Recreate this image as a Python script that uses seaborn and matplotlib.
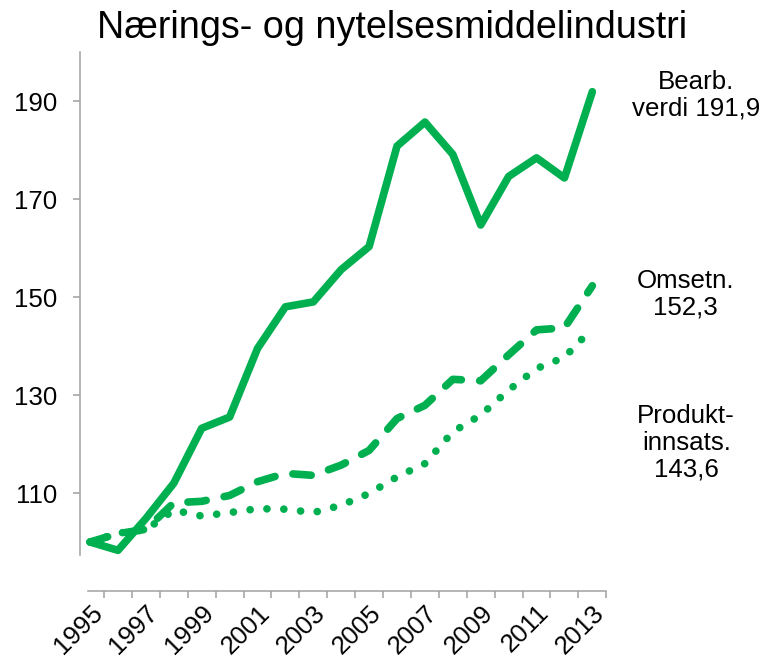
import numpy as np
import pandas as pd
import matplotlib
matplotlib.use("Agg")
import matplotlib.pyplot as plt
import seaborn as sns

years = list(range(1995, 2014))
bearb = [100.0, 98.3, 104.8, 112.0, 123.2, 125.5, 139.5, 148.0, 149.0, 155.6,
         160.3, 180.8, 185.7, 179.1, 164.7, 174.6, 178.4, 174.3, 191.9]
omsetn = [100.0, 101.7, 102.6, 108.0, 108.3, 109.5, 112.3, 114.0, 113.6, 115.7,
          118.7, 125.2, 127.9, 133.2, 132.9, 138.2, 143.3, 143.7, 152.3]
produkt = [100.0, 101.8, 102.5, 106.5, 105.3, 106.0, 106.8, 106.7, 106.0, 107.5,
           109.9, 113.3, 116.0, 122.5, 125.9, 131.0, 135.4, 137.7, 143.6]
series = ["Produktinnsats", "Omsetning", "Bearbeidingsverdi"]
end_labels = ["Produkt-\ninnsats.\n143,6", "Omsetn.\n152,3", "Bearb.\nverdi 191,9"]
title = "Nærings- og nytelsesmiddelindustri"

sns.set_style("white")
plt.rcParams["font.family"] = ["Liberation Sans", "DejaVu Sans"]
plt.rcParams["text.color"] = "black"
plt.rcParams["xtick.labelcolor"] = "black"
plt.rcParams["ytick.labelcolor"] = "black"

green = "#00B050"
grey = "#A0A0A0"

df = pd.DataFrame({
    "year": years * 3,
    "value": produkt + omsetn + bearb,
    "series": [s for s in series for _ in years],
})

fig = plt.figure(figsize=(7.71, 6.66), dpi=100)
ax = fig.add_axes([0.1038, 0.1126, 0.79 - 0.1038, 0.9219 - 0.1126])

dashes = {"Produktinnsats": (0.01, 2.2), "Omsetning": (2.4, 2.4), "Bearbeidingsverdi": ""}
sns.lineplot(data=df, x="year", y="value", style="series", style_order=series,
             dashes=dashes, color=green, lw=5.5, legend=False, ax=ax,
             dash_capstyle="round", solid_capstyle="round",
             solid_joinstyle="round", dash_joinstyle="round")

ax.set_xlim(1994.64, 2013.6)
ax.set_ylim(90, 200)
ax.set_xlabel("")
ax.set_ylabel("")

# y axis
ax.set_yticks([110, 130, 150, 170, 190])
ax.tick_params(axis="y", length=5, width=1.1, color=grey, pad=11.5,
               labelsize=18.6, direction="out", left=True)

# x axis: labels at every second year, tick marks between categories
ax.set_xticks(years[::2])
ax.set_xticklabels([str(y) for y in years[::2]])
ax.set_xticks([y + 0.5 for y in years], minor=True)
ax.tick_params(axis="x", which="major", length=0, pad=7, labelsize=18.6)
ax.tick_params(axis="x", which="minor", length=5, width=1.1, color=grey,
               direction="out", bottom=True)
plt.setp(ax.get_xticklabels(), rotation=45, ha="right", va="top",
         rotation_mode="anchor")

for side in ["top", "right"]:
    ax.spines[side].set_visible(False)
for side in ["left", "bottom"]:
    ax.spines[side].set_color(grey)
    ax.spines[side].set_linewidth(1.1)
ax.spines["left"].set_bounds(97.3, 200)
ax.spines["bottom"].set_bounds(1994.94, 2013.5)

fig.text(0.509, 0.943, title, ha="center", va="baseline", fontsize=27.2)

label_pos = [(0.890, 0.3348), (0.889, 0.5586), (0.903, 0.857)]
for (x, y), txt in zip(label_pos, end_labels):
    fig.text(x, y, txt, ha="center", va="center", multialignment="center",
             fontsize=18.6, linespacing=1.15)

fig.savefig("out.png", dpi=100)
